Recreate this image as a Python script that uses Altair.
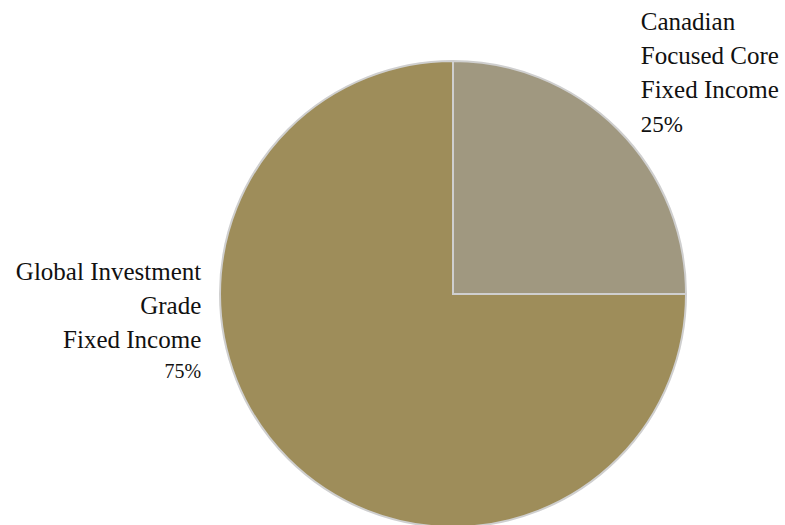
import altair as alt
import pandas as pd

categories = ["Canadian Focused Core Fixed Income", "Global Investment Grade Fixed Income"]
label_lines = ["Canadian\nFocused Core\nFixed Income", "Global Investment\nGrade\nFixed Income"]
shares = [25, 75]
pct_labels = ["25%", "75%"]
colors = ["#a09880", "#9e8d5a"]

df = pd.DataFrame({"category": categories, "label": label_lines, "share": shares, "pct": pct_labels})

R = 233
FONT = "'Liberation Serif', 'Times New Roman', 'DejaVu Serif', serif"
theta_scale = alt.Scale(domain=[0, 100])

base = alt.Chart(df)

pie = base.mark_arc(outerRadius=R, stroke="#cfcfcf", strokeWidth=2).encode(
    theta=alt.Theta("share:Q", stack=True, scale=theta_scale),
    color=alt.Color("category:N", scale=alt.Scale(domain=categories, range=colors), legend=None),
    order=alt.Order("category:N"),
)


def label_layer(cat, field, size, align, dx, dy):
    return (
        base.transform_window(cum="sum(share)", sort=[alt.SortField("category")])
        .transform_calculate(mid="datum.cum - datum.share / 2")
        .transform_filter(alt.datum.category == cat)
        .mark_text(
            font=FONT, fontSize=size, align=align, baseline="alphabetic",
            dx=dx, dy=dy, lineBreak="\n", lineHeight=34, color="#111111",
        )
        .encode(
            theta=alt.Theta("mid:Q", stack=None, scale=theta_scale),
            radius=alt.value(R),
            text=alt.Text(f"{field}:N"),
        )
    )


layers = [
    pie,
    label_layer(categories[0], "label", 25, "left", 23, -99),
    label_layer(categories[0], "pct", 23, "left", 23, 3),
    label_layer(categories[1], "label", 25, "right", -87, -179),
    label_layer(categories[1], "pct", 20, "right", -87, -81),
]

chart = (
    alt.layer(*layers)
    .properties(
        width=466,
        height=462,
        autosize=alt.AutoSizeParams(type="none"),
        padding={"left": 220, "top": 63, "right": 99, "bottom": 0},
    )
    .configure_view(stroke=None)
)

chart.save("out.html", embed_options={"renderer": "svg", "actions": False})
